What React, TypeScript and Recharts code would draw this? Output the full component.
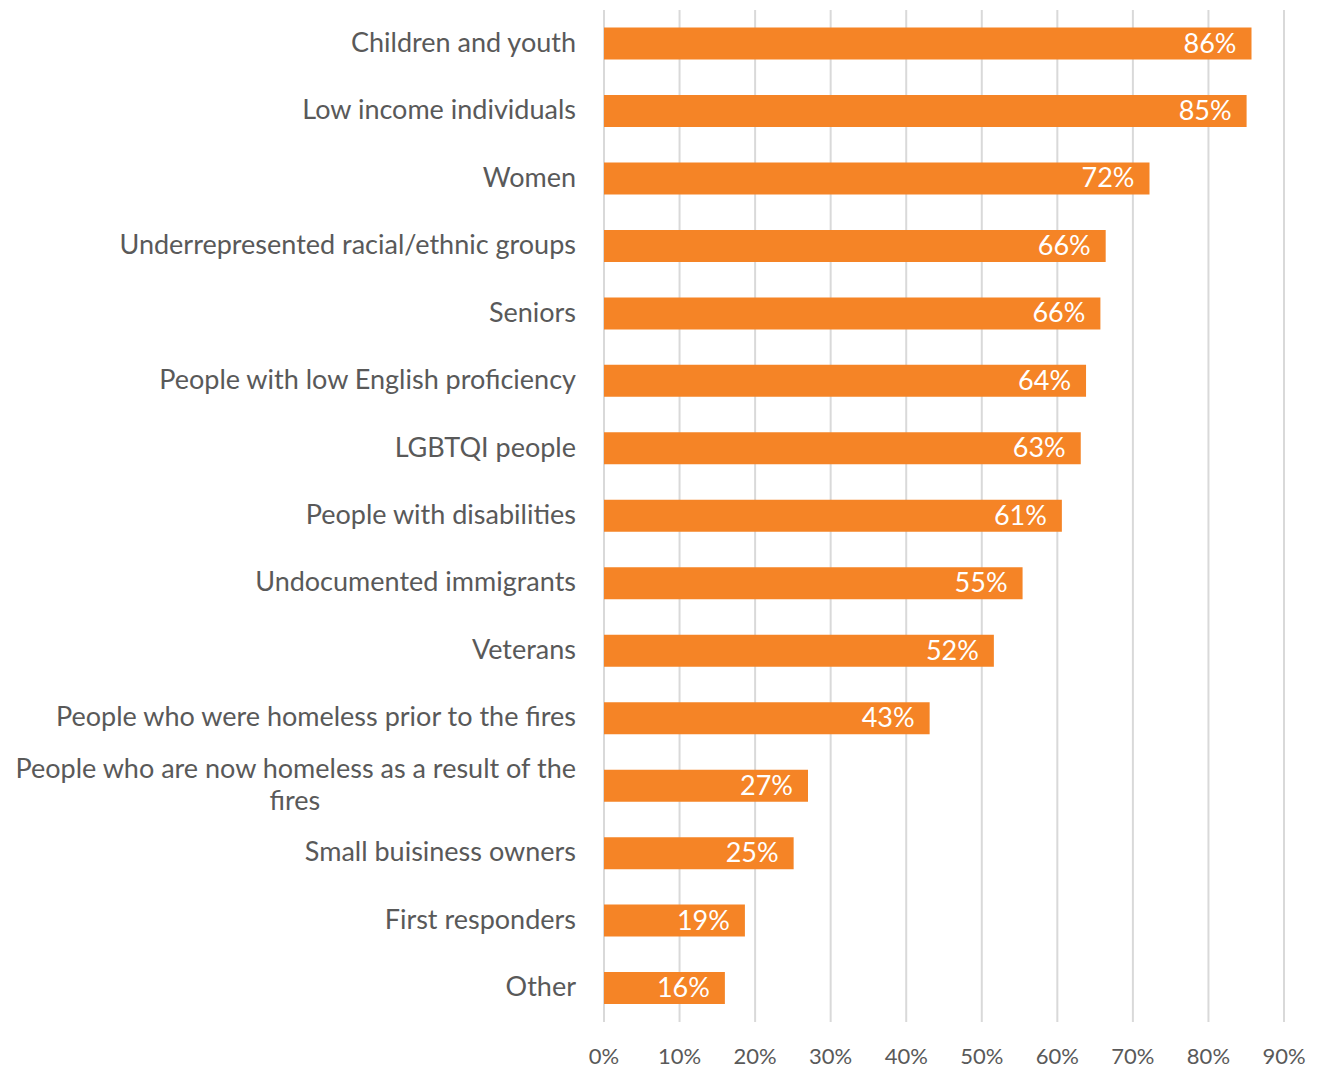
import React from "react";
import { BarChart, Bar, XAxis, YAxis, CartesianGrid, LabelList } from "recharts";

const categories = [
  "Children and youth",
  "Low income individuals",
  "Women",
  "Underrepresented racial/ethnic groups",
  "Seniors",
  "People with low English proficiency",
  "LGBTQI people",
  "People with disabilities",
  "Undocumented immigrants",
  "Veterans",
  "People who were homeless prior to the fires",
  "People who are now homeless as a result of the fires",
  "Small buisiness owners",
  "First responders",
  "Other",
];

const values = [85.7, 85.05, 72.2, 66.4, 65.7, 63.8, 63.1, 60.6, 55.4, 51.6, 43.1, 27.0, 25.1, 18.65, 16.0];

const xTicks = [0, 10, 20, 30, 40, 50, 60, 70, 80, 90];

const data = categories.map((c, i) => ({ name: c, value: values[i] }));

const FONT = "Lato, 'Open Sans', sans-serif";
const TEXT_COLOR = "#595959";
const CAT_SIZE = 27;
const VAL_SIZE = 27;
const TICK_SIZE = 22;

function measure(text: string, size: number): number {
  if (typeof document === "undefined") return text.length * size * 0.5;
  const c = document.createElement("canvas");
  const ctx = c.getContext("2d");
  if (!ctx) return text.length * size * 0.5;
  ctx.font = `${size}px Lato`;
  return ctx.measureText(text).width;
}

const MAX_LINE = 570;

function wrap(text: string, size: number): string[] {
  const words = text.split(" ");
  const lines: string[] = [];
  let cur = "";
  for (const w of words) {
    const t = cur ? cur + " " + w : w;
    if (measure(t, size) > MAX_LINE && cur) {
      lines.push(cur);
      cur = w;
    } else {
      cur = t;
    }
  }
  if (cur) lines.push(cur);
  return lines;
}

const CatTick = (props: any) => {
  const { y, payload } = props;
  const lines = wrap(String(payload.value), CAT_SIZE);
  const right = 568;
  if (lines.length === 1) {
    return (
      <text x={right} y={y + 8} textAnchor="end" fill={TEXT_COLOR} fontSize={CAT_SIZE} fontFamily={FONT}>
        {lines[0]}
      </text>
    );
  }
  const w1 = measure(lines[0], CAT_SIZE);
  const center = right - w1 / 2;
  const lh = 32;
  const startY = y + 8 - ((lines.length - 1) * lh) / 2;
  return (
    <g>
      {lines.map((l, i) => (
        <text
          key={i}
          x={i === 0 ? right : center}
          y={startY + i * lh}
          textAnchor={i === 0 ? "end" : "middle"}
          fill={TEXT_COLOR}
          fontSize={CAT_SIZE}
          fontFamily={FONT}
        >
          {l}
        </text>
      ))}
    </g>
  );
};

const XTick = (props: any) => {
  const { x, payload } = props;
  return (
    <text x={x} y={1056} textAnchor="middle" fill={TEXT_COLOR} fontSize={TICK_SIZE} fontFamily={FONT}>
      {`${payload.value}%`}
    </text>
  );
};

const ValueLabel = (props: any) => {
  const { x, y, width, height, value } = props;
  return (
    <text
      x={x + width - 15}
      y={y + height / 2 + 9}
      textAnchor="end"
      fill="#FFFFFF"
      fontSize={VAL_SIZE}
      fontFamily={FONT}
    >
      {`${Math.round(value)}%`}
    </text>
  );
};

export default function App() {
  return (
    <div style={{ width: 1315, height: 1062 }}>
      <BarChart
        width={1315}
        height={1062}
        data={data}
        layout="vertical"
        margin={{ top: 2, right: 39, bottom: 0, left: 0 }}
        barCategoryGap="26%"
      >
        <CartesianGrid horizontal={false} vertical={true} stroke="#D9D9D9" strokeWidth={2} />
        <XAxis
          type="number"
          domain={[0, 90]}
          ticks={xTicks}
          interval={0}
          axisLine={false}
          tickLine={false}
          height={48}
          tick={<XTick />}
        />
        <YAxis
          type="category"
          dataKey="name"
          width={596}
          axisLine={false}
          tickLine={false}
          interval={0}
          tick={<CatTick />}
        />
        <Bar dataKey="value" fill="#F58426" isAnimationActive={false}>
          <LabelList dataKey="value" content={<ValueLabel />} />
        </Bar>
      </BarChart>
    </div>
  );
}
